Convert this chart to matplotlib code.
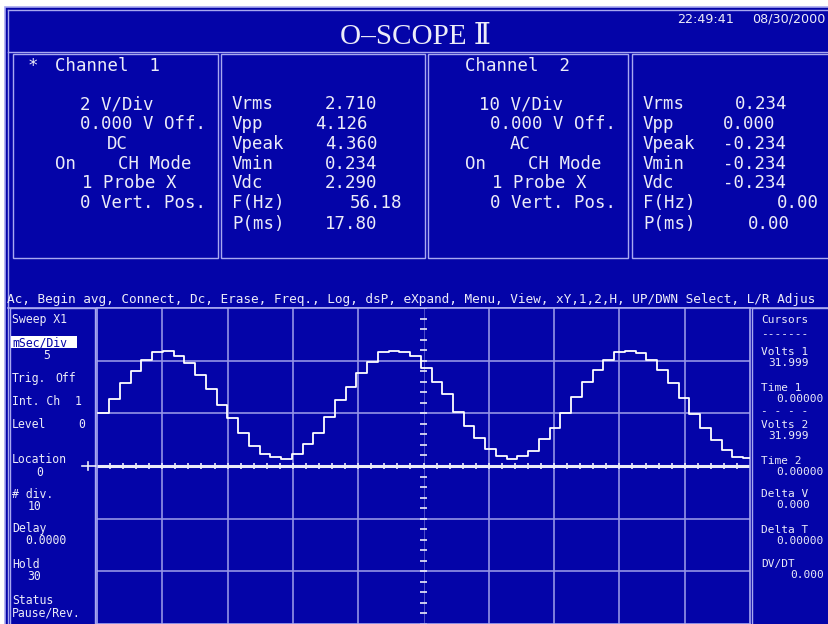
import matplotlib
matplotlib.use('Agg')
import matplotlib.pyplot as plt
import numpy as np
from matplotlib.patches import Rectangle

# ---------------- data ----------------
title = 'O\u2013SCOPE \u2161'
clock = '22:49:41'
date = '08/30/2000'

ch1_title = 'Channel  1'
ch2_title = 'Channel  2'
ch1_settings = ['2 V/Div', '0.000 V Off.', 'DC', 'On', 'CH Mode', '1 Probe X', '0 Vert. Pos.']
ch2_settings = ['10 V/Div', '0.000 V Off.', 'AC', 'On', 'CH Mode', '1 Probe X', '0 Vert. Pos.']
meas_labels = ['Vrms', 'Vpp', 'Vpeak', 'Vmin', 'Vdc', 'F(Hz)', 'P(ms)']
ch1_values = ['2.710', '4.126', '4.360', '0.234', '2.290', '56.18', '17.80']
ch2_values = ['0.234', '0.000', '-0.234', '-0.234', '-0.234', '0.00', '0.00']

command_line = ('Ac, Begin avg, Connect, Dc, Erase, Freq., Log, dsP, eXpand, Menu, '
                'View, xY,1,2,H, UP/DWN Select, L/R Adjus')

sweep_labels = ['Sweep X1', 'mSec/Div', '5', 'Trig.', 'Off', 'Int. Ch', '1', 'Level', '0',
                'Location', '0', '# div.', '10', 'Delay', '0.0000', 'Hold', '30',
                'Status', 'Pause/Rev.']
cursor_labels = ['Cursors', '-------', 'Volts 1', '31.999', 'Time 1', '0.00000', '- - - -',
                 'Volts 2', '31.999', 'Time 2', '0.00000', 'Delta V', '0.000',
                 'Delta T', '0.00000', 'DV/DT', '0.000']

# waveform (channel 1), volts per held sample
ms_per_div = 5
volts_per_div = 2
sample_dt_ms = 0.823
sample_t0_ms = 0.1
wave_v = [2.01, 2.54, 3.15, 3.61, 4.02, 4.33, 4.36, 4.17, 3.91, 3.45,
          2.92, 2.31, 1.82, 1.25, 0.76, 0.46, 0.34, 0.25, 0.46, 0.83,
          1.25, 1.86, 2.50, 3.00, 3.53, 3.95, 4.33, 4.36, 4.33, 4.17,
          3.72, 3.19, 2.73, 2.05, 1.52, 1.06, 0.65, 0.38, 0.25, 0.38,
          0.57, 1.02, 1.44, 2.01, 2.62, 3.19, 3.64, 4.02, 4.33, 4.36,
          4.29, 4.02, 3.64, 3.15, 2.58, 1.97, 1.44, 0.99, 0.61, 0.34, 0.30]

# ---------------- style ----------------
W, H = 829, 624
BLUE = '#0404A8'
LINE = '#A8A8F0'
GRID = '#9494E6'
TXT = '#ECECF8'
MONO = 'DejaVu Sans Mono'
SANS = 'DejaVu Sans'

fig = plt.figure(figsize=(W / 100, H / 100), dpi=100, facecolor='white')
bg = fig.add_axes([0, 0, 1, 1])
bg.set_xlim(0, W)
bg.set_ylim(H, 0)
bg.axis('off')


def T(x, yc, s, pt, fam, color=TXT, ha='left', **kw):
    bg.text(x, yc + 0.36 * pt * 100 / 72, s, fontsize=pt, family=fam, color=color,
            ha=ha, va='baseline', **kw)


def box(x0, y0, x1, y1, fc='none', ec=LINE, lw=1.0):
    bg.add_patch(Rectangle((x0, y0), x1 - x0, y1 - y0, facecolor=fc, edgecolor=ec, lw=lw))


# main blue panel
box(5, 7, W + 2, H + 2, fc=BLUE, ec=LINE, lw=1.2)
bg.plot([8, W], [10, 10], color=LINE, lw=1)
bg.plot([8, W], [52, 52], color=LINE, lw=1)
bg.plot([8, 8], [10, H], color=LINE, lw=1)

# header
T(W / 2 + 1, 33, title, 21, ['Liberation Serif', 'DejaVu Serif'], ha='center')
T(677, 18, clock, 9.2, SANS)
T(752, 18, date, 9.2, SANS)

# channel boxes
for (x0, x1) in [(13, 218), (221, 425), (428, 628), (632, W + 2)]:
    box(x0, 54, x1, 258)

row_y = [103, 123, 143, 163, 182, 202, 223]
PT = 12.5
# channel 1 settings
T(28, 65, '*', PT, MONO)
T(55, 65, ch1_title, PT, MONO)
ch1_pos = [(80, 0), (80, 1), (107, 2), (55, 3), (118, 3), (82, 4), (80, 5)]
for s, (x, r) in zip(ch1_settings, ch1_pos):
    T(x, row_y[r], s, PT, MONO)
# channel 2 settings
T(465, 65, ch2_title, PT, MONO)
ch2_pos = [(479, 0), (490, 1), (510, 2), (465, 3), (528, 3), (492, 4), (490, 5)]
for s, (x, r) in zip(ch2_settings, ch2_pos):
    T(x, row_y[r], s, PT, MONO)

# measurements
ch1_vx = [325, 315, 325, 325, 325, 350, 325]
ch2_vx = [735, 723, 723, 723, 723, 777, 748]
for i, lab in enumerate(meas_labels):
    T(232, row_y[i], lab, PT, MONO)
    T(ch1_vx[i], row_y[i], ch1_values[i], PT, MONO)
    T(643, row_y[i], lab, PT, MONO)
    T(ch2_vx[i], row_y[i], ch2_values[i], PT, MONO)

# command line
T(7, 298, command_line, 9.15, MONO)

# lower frame
bg.plot([8, W], [308, 308], color=LINE, lw=1.2)
box(10, 308, 95, H + 2)
box(752, 308, W + 2, H + 2)

# left sweep panel
SP = 8.3
sweep_pos = [(12, 319), (12, 342), (43, 355), (12, 378), (55, 378), (12, 401), (75, 401),
             (12, 424), (78, 424), (12, 459), (36, 472), (12, 494), (28, 506), (12, 528),
             (25, 540), (12, 564), (27, 576), (12, 600), (12, 612)]
for s, (x, y) in zip(sweep_labels, sweep_pos):
    if s == 'mSec/Div':
        bg.add_patch(Rectangle((11, 336), 66, 12, facecolor='white', edgecolor='none'))
        T(x, y, s, SP, MONO, color=BLUE)
    else:
        T(x, y, s, SP, MONO)

# right cursor panel
CP = 8.0
cursor_pos = [(761, 319), (761, 333), (761, 351), (768, 362), (761, 387), (776, 398),
              (761, 410), (761, 424), (768, 435), (761, 460), (776, 471), (761, 493),
              (776, 504), (761, 529), (776, 540), (761, 563), (790, 574)]
for s, (x, y) in zip(cursor_labels, cursor_pos):
    T(x, y, s, CP, MONO)

# trigger location marker
bg.plot([82, 97], [466, 466], color=TXT, lw=1.2)
bg.plot([88, 88], [462, 470], color=TXT, lw=1.2)

# ---------------- scope graticule ----------------
ax = fig.add_axes([97 / W, 0, (750 - 97) / W, (H - 308) / H])
ax.set_facecolor(BLUE)
ndiv_x = 10
ax.set_xlim(0, ndiv_x * ms_per_div)
ax.set_ylim(-3 * volts_per_div, 3 * volts_per_div)
for sp in ax.spines.values():
    sp.set_color(LINE)
    sp.set_linewidth(1.2)
ax.set_xticks([])
ax.set_yticks([])

xc = ndiv_x * ms_per_div / 2
for k in range(1, ndiv_x):
    xv = k * ms_per_div
    if xv != xc:
        ax.axvline(xv, color=GRID, lw=1.2, zorder=1)
for k in (-2, -1, 1, 2):
    ax.axhline(k * volts_per_div, color=GRID, lw=1.2, zorder=1)

# center axes with minor ticks
ax.axhline(0, color=TXT, lw=2.2, zorder=2)
minor_x = np.arange(1, ndiv_x * ms_per_div, ms_per_div / 5)
ax.vlines(minor_x, -0.13, 0.13, color=TXT, lw=1.2, zorder=2)
minor_y = np.arange(-3 * volts_per_div, 3 * volts_per_div + 0.01, volts_per_div / 5)
ax.hlines(minor_y, xc - 0.25, xc + 0.25, color=TXT, lw=1.2, zorder=2)
ax.axvline(xc, color=GRID, lw=0.6, alpha=0.6, zorder=1)

# trace
t = sample_t0_ms + sample_dt_ms * np.arange(len(wave_v) + 1)
v = list(wave_v) + [wave_v[-1]]
ax.step(t, v, where='post', color='white', lw=1.3, zorder=3)

fig.savefig('out.png', dpi=100, facecolor='white')
